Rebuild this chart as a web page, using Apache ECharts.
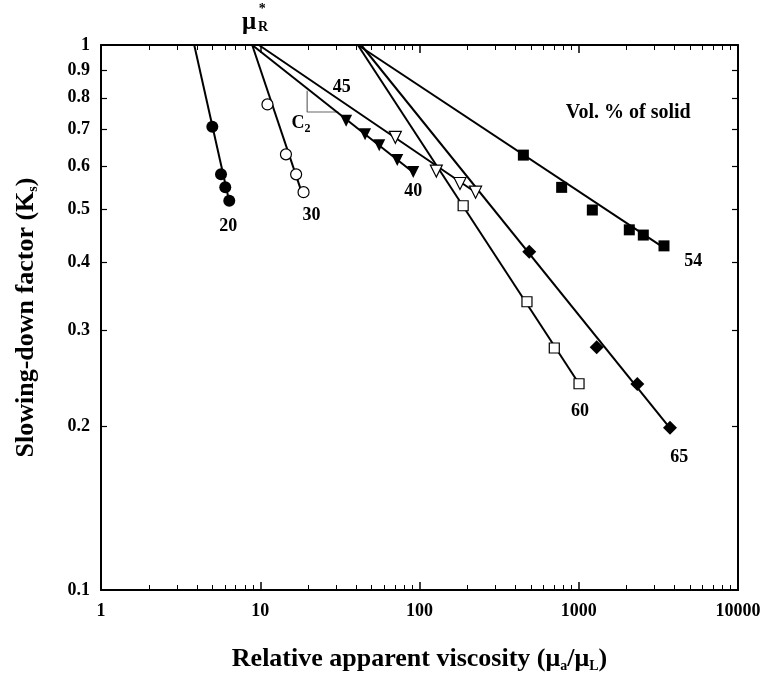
<!DOCTYPE html>
<html>
<head>
<meta charset="utf-8">
<script src="https://cdn.jsdelivr.net/npm/echarts@6/dist/echarts.min.js"></script>
<style>
  html, body { margin: 0; padding: 0; background: #fff; }
  #chart { width: 763px; height: 683px; }
</style>
</head>
<body>
<div id="chart"></div>
<script>
// measured points, viscosity ratio (x) vs slowing-down factor (y)
const vis20 = [5.0, 5.67, 6.03, 6.39];
const ks20 = [0.708, 0.579, 0.548, 0.518];
const vis30 = [11.1, 14.5, 16.8, 18.7];
const ks30 = [0.778, 0.63, 0.579, 0.537];
const vis40 = [34.6, 45.5, 55.9, 72.5, 91.4];
const ks40 = [0.726, 0.686, 0.655, 0.615, 0.585];
const vis45 = [70.5, 127.5, 179.6, 225];
const ks45 = [0.677, 0.587, 0.557, 0.537];
const vis54 = [449, 781, 1217, 2077, 2543, 3430];
const ks54 = [0.628, 0.548, 0.498, 0.458, 0.448, 0.428];
const vis60 = [188, 473, 702, 1004];
const ks60 = [0.507, 0.338, 0.278, 0.239];
const vis65 = [489, 1296, 2332, 3741];
const ks65 = [0.4175, 0.279, 0.2388, 0.1985];

// fitted lines: start (at Ks = 1) and end points
const fit20 = [[3.85, 1], [6.4, 0.515]];
const fit30 = [[8.9, 1], [18.6, 0.527]];
const fit40 = [[8.9, 1], [92, 0.583]];
const fit45 = [[9.8, 1], [228, 0.535]];
const fit54 = [[41, 1], [3450, 0.424]];
const fit60 = [[41, 1], [1004, 0.239]];
const fit65 = [[43, 1], [3750, 0.198]];
const slopeC2 = [[19.7, 0.824], [19.7, 0.7535], [30.9, 0.7535]];

// ticks
const xLabels = [1, 10, 100, 1000, 10000];
const xMajor = [10, 100, 1000];
const xMinor = [2, 3, 4, 5, 6, 7, 8, 9, 20, 30, 40, 50, 60, 70, 80, 90,
  200, 300, 400, 500, 600, 700, 800, 900, 2000, 3000, 4000, 5000, 6000, 7000, 8000, 9000];
const yLabels = [0.1, 0.2, 0.3, 0.4, 0.5, 0.6, 0.7, 0.8, 0.9, 1];
const yTicks = [0.2, 0.3, 0.4, 0.5, 0.6, 0.7, 0.8, 0.9];

// annotations in data coordinates
const noteText = ['20', '30', '40', '45', '54', '60', '65', 'Vol. % of solid', 'C2', 'μ', '*', 'R'];
const noteX = [6.3, 21.0, 91.4, 32.5, 5237, 1018, 4280, 2047, 18.0, 8.5, 10.3, 10.4];
const noteY = [0.464, 0.4876, 0.538, 0.835, 0.4003, 0.2124, 0.1752, 0.752, 0.718, 1.100, 1.162, 1.078];

const FONT = 'Liberation Serif';
const chart = echarts.init(document.getElementById('chart'));

const zip = (xs, ys) => xs.map((x, i) => [x, ys[i]]);

const lineSeries = (data) => ({
  type: 'line', data: data, symbol: 'none', silent: true,
  lineStyle: { color: '#000', width: 2 }, z: 2
});

const pointSeries = (xs, ys, symbol, filled, size, rotate) => ({
  type: 'scatter', data: zip(xs, ys), symbol: symbol, symbolSize: size,
  symbolRotate: rotate || 0, silent: true, z: 3,
  itemStyle: filled
    ? { color: '#000', borderColor: '#000', borderWidth: 0, opacity: 1 }
    : { color: '#fff', borderColor: '#000', borderWidth: 1.2, opacity: 1 }
});

const noteStyle = (t) => {
  if (t === 'Vol. % of solid') return { fontSize: 20 };
  if (t === 'μ') return { fontSize: 25 };
  if (t === '*') return { fontSize: 14 };
  if (t === 'R') return { fontSize: 14 };
  if (t === 'C2') return { fontSize: 18, formatter: '{c|C}{s|2}' };
  return { fontSize: 18 };
};

const notes = noteText.map((t, i) => ({
  value: [noteX[i], noteY[i]],
  label: Object.assign({ formatter: t }, noteStyle(t))
}));

const axisLine = { show: true, lineStyle: { color: '#000', width: 2 } };

const xBase = {
  type: 'log', logBase: 10, min: 1, max: 10000, gridIndex: 0,
  splitLine: { show: false }, axisLine: { show: false }
};
const yBase = {
  type: 'log', logBase: 10, min: 0.1, max: 1, gridIndex: 0,
  splitLine: { show: false }, axisLine: { show: false }
};

const subStyle = { fontFamily: FONT, fontWeight: 'bold', fontSize: 14, color: '#000', verticalAlign: 'bottom', padding: [14, 0, 0, 0] };

const option = {
  backgroundColor: '#fff',
  animation: false,
  grid: { left: 101, right: 25, top: 45, bottom: 93, containLabel: false, outerBoundsMode: 'none' },
  xAxis: [
    Object.assign({}, xBase, {
      position: 'bottom', axisLine: axisLine,
      axisTick: { inside: true, length: 8, customValues: xMajor, lineStyle: { color: '#000', width: 1.5 } },
      axisLabel: {
        customValues: xLabels, color: '#000', fontFamily: FONT, fontWeight: 'bold', fontSize: 18, margin: 12,
        formatter: v => String(Math.round(v))
      },
      name: 'Relative apparent viscosity (μ{s|a}/μ{s|L})',
      nameLocation: 'middle', nameGap: 55,
      nameTextStyle: {
        color: '#000', fontFamily: FONT, fontWeight: 'bold', fontSize: 26,
        rich: { s: subStyle }
      }
    }),
    Object.assign({}, xBase, {
      position: 'bottom',
      axisTick: { inside: true, length: 5, customValues: xMinor, lineStyle: { color: '#000', width: 1 } },
      axisLabel: { show: false }
    }),
    Object.assign({}, xBase, {
      position: 'top', axisLine: axisLine,
      axisTick: { inside: true, length: 8, customValues: xMajor, lineStyle: { color: '#000', width: 1.5 } },
      axisLabel: { show: false }
    }),
    Object.assign({}, xBase, {
      position: 'top',
      axisTick: { inside: true, length: 5, customValues: xMinor, lineStyle: { color: '#000', width: 1 } },
      axisLabel: { show: false }
    })
  ],
  yAxis: [
    Object.assign({}, yBase, {
      position: 'left', axisLine: axisLine,
      axisTick: { inside: true, length: 6, customValues: yTicks, lineStyle: { color: '#000', width: 1.2 } },
      axisLabel: {
        customValues: yLabels, color: '#000', fontFamily: FONT, fontWeight: 'bold', fontSize: 18, margin: 11,
        formatter: v => String(+v.toFixed(2))
      },
      name: 'Slowing-down factor (K{s|s})',
      nameLocation: 'middle', nameGap: 61,
      nameTextStyle: {
        color: '#000', fontFamily: FONT, fontWeight: 'bold', fontSize: 26,
        rich: { s: subStyle }
      }
    }),
    Object.assign({}, yBase, {
      position: 'right', axisLine: axisLine,
      axisTick: { inside: true, length: 6, customValues: yTicks, lineStyle: { color: '#000', width: 1.2 } },
      axisLabel: { show: false }
    })
  ],
  series: [
    lineSeries(fit20), lineSeries(fit30), lineSeries(fit40), lineSeries(fit45),
    lineSeries(fit54), lineSeries(fit60), lineSeries(fit65),
    {
      type: 'line', data: slopeC2, symbol: 'none', silent: true,
      lineStyle: { color: '#666', width: 1.2 }, z: 1
    },
    pointSeries(vis20, ks20, 'circle', true, 12),
    pointSeries(vis30, ks30, 'circle', false, 11),
    pointSeries(vis40, ks40, 'triangle', true, 12, 180),
    pointSeries(vis45, ks45, 'triangle', false, 12, 180),
    pointSeries(vis54, ks54, 'rect', true, 11),
    pointSeries(vis60, ks60, 'rect', false, 10),
    pointSeries(vis65, ks65, 'diamond', true, 14),
    {
      type: 'scatter', data: notes, symbolSize: 0, silent: true, clip: false, z: 5,
      itemStyle: { opacity: 1 },
      label: {
        show: true, position: 'inside', color: '#000', fontFamily: FONT, fontWeight: 'bold', opacity: 1,
        rich: {
          c: { fontFamily: FONT, fontWeight: 'bold', fontSize: 18, color: '#000' },
          s: { fontFamily: FONT, fontWeight: 'bold', fontSize: 12, color: '#000', padding: [10, 0, 0, 0] }
        }
      }
    }
  ]
};

chart.setOption(option);
</script>
</body>
</html>
